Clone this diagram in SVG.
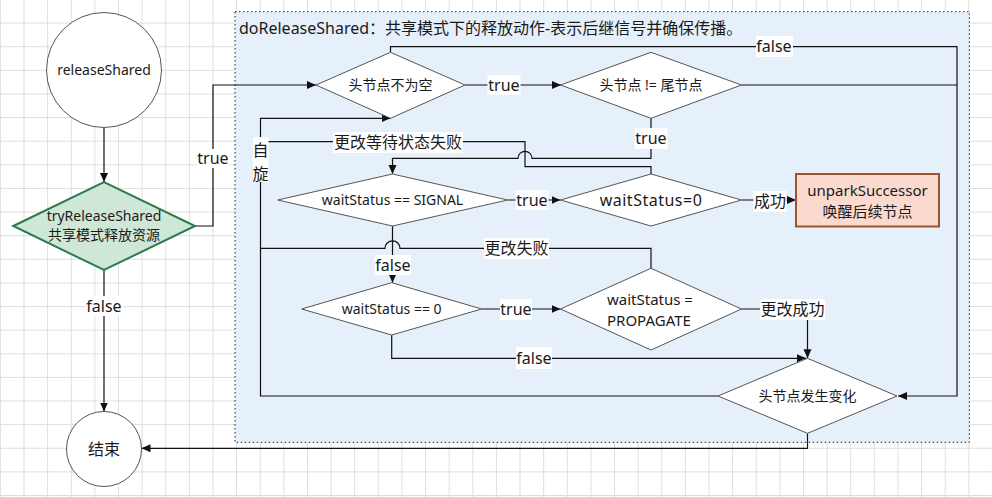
<svg xmlns="http://www.w3.org/2000/svg" width="992" height="497" viewBox="0 0 992 497">
<defs>
<pattern id="grid" x="-0.1" y="-1" width="23.62" height="23.62" patternUnits="userSpaceOnUse">
<path d="M0,0.5 H23.62 M0.5,0 V23.62" fill="none" stroke="#dedede" stroke-width="1"/>
</pattern>
<marker id="arr" markerUnits="userSpaceOnUse" markerWidth="10" markerHeight="10" refX="9" refY="4" orient="auto">
<path d="M0,0 L9,4 L0,8 z" fill="#111"/>
</marker>
<style>
.t{font-family:"Noto Sans","Noto Sans CJK SC",sans-serif;fill:#1a1a1a;text-anchor:middle}
.s14{font-size:14px}
.s15{font-size:15px}
.s16{font-size:16px}
.n{fill:#fff;stroke:#555;stroke-width:1}
.e{fill:none;stroke:#111;stroke-width:1.2}
.lb{fill:#fff}
</style>
</defs>
<rect width="992" height="497" fill="#fff"/>
<rect width="992" height="497" fill="url(#grid)"/>

<g id="container">
<rect x="235" y="11.7" width="734.3" height="430.6" fill="#e6f0fb" stroke="#222" stroke-width="1" stroke-dasharray="1.5 2.5"/>
<text class="t s16" x="239" y="34" style="text-anchor:start">doReleaseShared：共享模式下的释放动作-表示后继信号并确保传播。</text>
</g>

<g id="connectors">
<path class="e" d="M104,127 V182" marker-end="url(#arr)"/>
<path class="e" d="M195,226 H213 V85 H316" marker-end="url(#arr)"/>
<path class="e" d="M104,270 V411.5" marker-end="url(#arr)"/>
<path class="e" d="M465,85 H561" marker-end="url(#arr)"/>
<path class="e" d="M390.5,52.3 V46.7 H957 V396 H898" marker-end="url(#arr)"/>
<path class="e" d="M741.5,85 H957"/>
<path class="e" d="M651,118.3 V158.3 H532 A7,7 0 0 0 518,158.3 H392.5 V174" marker-end="url(#arr)"/>
<path class="e" d="M507.7,200 H560.5" marker-end="url(#arr)"/>
<path class="e" d="M741.5,200 H796" marker-end="url(#arr)"/>
<path class="e" d="M651,174 V166.7 H525 V141.7 H260.5"/>
<path class="e" d="M392.5,226 V282.7" marker-end="url(#arr)"/>
<path class="e" d="M651,268.3 V248.3 H400 A7.5,7.5 0 0 0 385,248.3 H260.5"/>
<path class="e" d="M481.7,309 H560.5" marker-end="url(#arr)"/>
<path class="e" d="M741.5,309 H807.5 V358.3" marker-end="url(#arr)"/>
<path class="e" d="M391.7,335 V358.3 H806" marker-end="url(#arr)"/>
<path class="e" d="M718,396 H260.5 V118.3 H390.5" marker-end="url(#arr)"/>
<path class="e" d="M807.5,433.3 V448.3 H141.5" marker-end="url(#arr)"/>

<g id="labels">
<rect class="lb" x="196.5" y="149" width="33" height="19"/>
<text class="t s16" x="213" y="164">true</text>
<rect class="lb" x="86" y="296" width="37" height="20"/>
<text class="t s16" x="104" y="311.5">false</text>
<rect class="lb" x="487.5" y="75" width="33" height="20"/>
<text class="t s16" x="504" y="90.5">true</text>
<rect class="lb" x="756" y="36" width="37" height="21"/>
<text class="t s16" x="774" y="52">false</text>
<rect class="lb" x="634.5" y="128" width="33" height="21"/>
<text class="t s16" x="651" y="144">true</text>
<rect class="lb" x="333" y="132" width="130" height="21"/>
<text class="t s16" x="398" y="148">更改等待状态失败</text>
<rect class="lb" x="253" y="137" width="15.5" height="45"/>
<text class="t s16" x="260.5" y="156">自</text>
<text class="t s16" x="260.5" y="180">旋</text>
<rect class="lb" x="515.5" y="190" width="33" height="20"/>
<text class="t s16" x="532" y="205.5">true</text>
<rect class="lb" x="753.5" y="191" width="33" height="21"/>
<text class="t s16" x="770" y="207">成功</text>
<rect class="lb" x="375" y="255" width="36" height="20"/>
<text class="t s16" x="393" y="270.5">false</text>
<rect class="lb" x="484" y="238" width="65" height="21"/>
<text class="t s16" x="516.5" y="254">更改失败</text>
<rect class="lb" x="500" y="299" width="32" height="21"/>
<text class="t s16" x="516" y="314.5">true</text>
<rect class="lb" x="760" y="299" width="65" height="21"/>
<text class="t s16" x="792.5" y="315">更改成功</text>
<rect class="lb" x="516" y="347" width="36" height="22"/>
<text class="t s16" x="534" y="363.5">false</text>
</g>
</g>

<g id="releaseShared">
<circle class="n" cx="104" cy="70" r="57.5"/>
<text class="t s14" x="104" y="75">releaseShared</text>
</g>
<g id="tryReleaseShared">
<polygon points="13.3,226 104,182 195,226 104,270" fill="#cfe7d7" stroke="#2b7a50" stroke-width="2"/>
<text class="t s14" x="104" y="221">tryReleaseShared</text>
<text class="t s14" x="104" y="240">共享模式释放资源</text>
</g>
<g id="end">
<circle class="n" cx="104" cy="449" r="37.5"/>
<text class="t s16" x="104" y="455">结束</text>
</g>
<g id="headNotNull">
<polygon class="n" points="316,85 390.5,52.3 465,85 390.5,118.3"/>
<text class="t s14" x="390.5" y="90">头节点不为空</text>
</g>
<g id="headNotTail">
<polygon class="n" points="560.5,85 651,52.3 741.5,85 651,118.3"/>
<text class="t s14" x="651" y="90">头节点 != 尾节点</text>
</g>
<g id="signal">
<polygon class="n" points="277.7,200 392.5,174 507.7,200 392.5,226"/>
<text class="t s14" x="392.5" y="205">waitStatus == SIGNAL</text>
</g>
<g id="casZero">
<polygon class="n" points="560.5,200 651,174 741.5,200 651,226"/>
<text class="t s16" x="651" y="206" style="letter-spacing:0.5px">waitStatus=0</text>
</g>
<g id="unpark">
<rect x="796" y="174" width="143" height="52.5" fill="#fad9ce" stroke="#a0522d" stroke-width="2"/>
<text class="t s15" x="867.5" y="196">unparkSuccessor</text>
<text class="t s15" x="867.5" y="217">唤醒后续节点</text>
</g>
<g id="isZero">
<polygon class="n" points="301.7,309 391.7,282.7 481.7,309 391.7,335"/>
<text class="t s14" x="391.7" y="314">waitStatus == 0</text>
</g>
<g id="propagate">
<polygon class="n" points="560.5,309 651,268.3 741.5,309 651,350"/>
<text class="t s15" x="607" y="305" style="text-anchor:start">waitStatus =</text>
<text class="t s15" x="607" y="326" style="text-anchor:start">PROPAGATE</text>
</g>
<g id="headChanged">
<polygon class="n" points="718,396 807.5,358.3 897,396 807.5,433.3"/>
<text class="t s14" x="807.5" y="401">头节点发生变化</text>
</g>
</svg>
